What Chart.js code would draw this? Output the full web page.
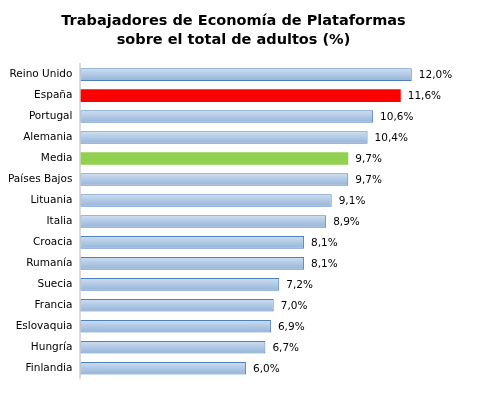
<!DOCTYPE html>
<html>
<head>
<meta charset="utf-8">
<script src="https://cdn.jsdelivr.net/npm/chart.js@4"></script>
<style>
  html, body { margin: 0; padding: 0; background: #fff; }
  #wrap { width: 480px; height: 393px; }
</style>
</head>
<body>
<div id="wrap"><canvas id="barChart" width="480" height="393"></canvas></div>
<script>
"use strict";

// Datos
const paises = ["Reino Unido", "España", "Portugal", "Alemania", "Media", "Países Bajos", "Lituania",
  "Italia", "Croacia", "Rumanía", "Suecia", "Francia", "Eslovaquia", "Hungría", "Finlandia"];
const valores = [12.0, 11.6, 10.6, 10.4, 9.7, 9.7, 9.1, 8.9, 8.1, 8.1, 7.2, 7.0, 6.9, 6.7, 6.0];
const tituloLineas = ["Trabajadores de Economía de Plataformas", "sobre el total de adultos (%)"];

const fuente = "'DejaVu Sans', Verdana, sans-serif";

// España en rojo, Media en verde, el resto azul con degradado
function colorBarra(nombre) {
  if (nombre === "España") return "#ff0000";
  if (nombre === "Media") return "#92d050";
  return null;
}

// Plugin: degradado en cada barra azul
const degradado = {
  id: "degradado",
  beforeDatasetsDraw(chart) {
    const c = chart.ctx;
    chart.getDatasetMeta(0).data.forEach((bar, i) => {
      if (colorBarra(paises[i])) return;
      const h = bar.height / 2;
      const g = c.createLinearGradient(0, bar.y - h, 0, bar.y + h);
      g.addColorStop(0, "#cddef3");
      g.addColorStop(1, "#95b3d7");
      bar.options.backgroundColor = g;
    });
  }
};

// Plugin: etiquetas de valor al final de cada barra
const etiquetas = {
  id: "etiquetas",
  afterDatasetsDraw(chart) {
    const c = chart.ctx;
    c.save();
    c.font = "10.5px " + fuente;
    c.fillStyle = "#000";
    c.textBaseline = "middle";
    chart.getDatasetMeta(0).data.forEach((bar, i) => {
      const txt = valores[i].toFixed(1).replace(".", ",") + "%";
      c.fillText(txt, bar.x + 7, bar.y + 1);
    });
    c.restore();
  }
};

const config = {
  type: "bar",
  data: {
    labels: paises,
    datasets: [{
      data: valores,
      backgroundColor: paises.map((p) => colorBarra(p) || "#b0c8e6"),
      borderColor: paises.map((p) => colorBarra(p) || "#4f81bd"),
      borderWidth: paises.map((p) => (colorBarra(p) ? 0 : 1)),
      borderSkipped: false,
      barPercentage: 0.6,
      categoryPercentage: 1.0
    }]
  },
  options: {
    indexAxis: "y",
    responsive: false,
    animation: false,
    layout: { padding: { left: 0, right: 13, top: 0, bottom: 14 } },
    plugins: {
      legend: { display: false },
      tooltip: { enabled: false },
      title: {
        display: true,
        text: tituloLineas,
        color: "#000",
        font: { family: fuente, size: 14.5, weight: "bold", lineHeight: 1.35 },
        padding: { top: 11, bottom: 14 }
      }
    },
    scales: {
      x: { display: false, min: 0, max: 14 },
      y: {
        grid: { display: false, drawTicks: false },
        border: { display: true, color: "#d9d9d9", width: 2 },
        ticks: {
          color: "#000",
          padding: 8,
          font: { family: fuente, size: 10.5 }
        }
      }
    }
  },
  plugins: [degradado, etiquetas]
};

new Chart(document.getElementById("barChart"), config);
</script>
</body>
</html>
